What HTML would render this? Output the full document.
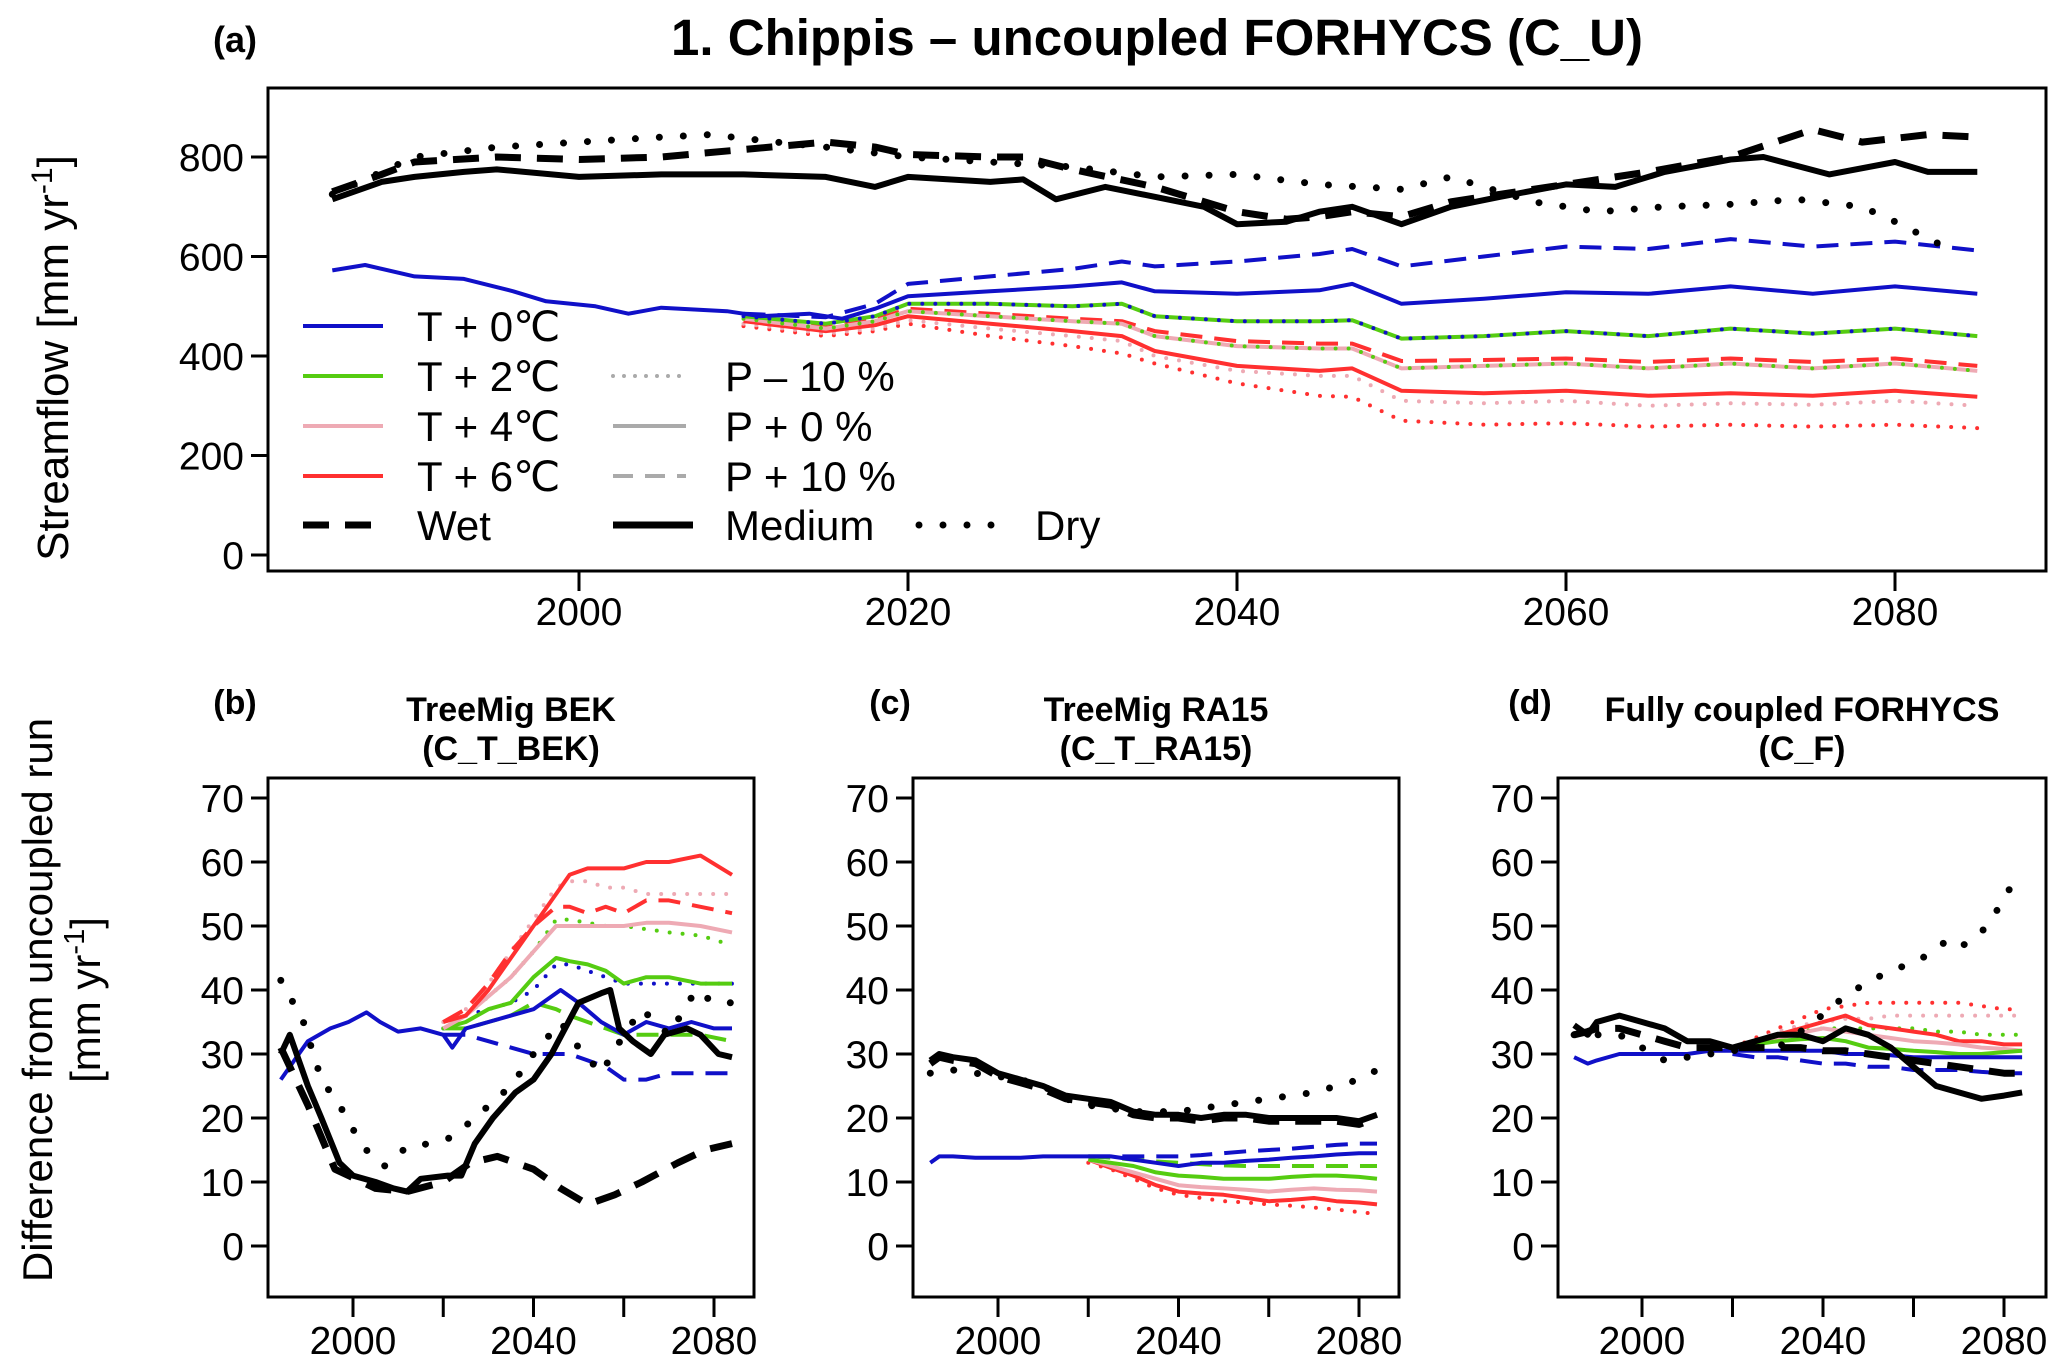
<!DOCTYPE html>
<html><head><meta charset="utf-8">
<style>
html,body{margin:0;padding:0;background:#fff;}
svg{display:block;font-family:"Liberation Sans",sans-serif;}
</style></head>
<body>
<svg id="fig" width="2067" height="1370" viewBox="0 0 2067 1370">
<text x="235" y="52" font-size="36" font-weight="bold" text-anchor="middle">(a)</text>
<text x="1157" y="55" font-size="51" font-weight="bold" text-anchor="middle">1. Chippis – uncoupled FORHYCS (C_U)</text>
<text transform="translate(68,358) rotate(-90)" font-size="44" text-anchor="middle">Streamflow [mm yr<tspan baseline-shift="super" font-size="30">-1</tspan>]</text>
<text transform="translate(52,1000) rotate(-90)" font-size="42" text-anchor="middle">Difference from uncoupled run</text>
<text transform="translate(100,1000) rotate(-90)" font-size="42" text-anchor="middle">[mm yr<tspan baseline-shift="super" font-size="29">-1</tspan>]</text>
<text x="235" y="714" font-size="34" font-weight="bold" text-anchor="middle">(b)</text>
<text x="890" y="714" font-size="34" font-weight="bold" text-anchor="middle">(c)</text>
<text x="1530" y="714" font-size="34" font-weight="bold" text-anchor="middle">(d)</text>
<text x="511" y="721" font-size="34" font-weight="bold" text-anchor="middle">TreeMig BEK</text>
<text x="511" y="760" font-size="34" font-weight="bold" text-anchor="middle">(C_T_BEK)</text>
<text x="1156" y="721" font-size="34" font-weight="bold" text-anchor="middle">TreeMig RA15</text>
<text x="1156" y="760" font-size="34" font-weight="bold" text-anchor="middle">(C_T_RA15)</text>
<text x="1802" y="721" font-size="34" font-weight="bold" text-anchor="middle">Fully coupled FORHYCS</text>
<text x="1802" y="760" font-size="34" font-weight="bold" text-anchor="middle">(C_F)</text>
</svg>
<script>
// ---------- Panel (a) data ----------
const aMedYears=[1985,1988,1990,1993,1995,2000,2005,2010,2015,2018,2020,2025,2027,2029,2032,2035,2038,2040,2043,2045,2047,2050,2053,2056,2060,2063,2066,2070,2072,2076,2080,2082,2085];
const aMedium=[715,750,760,770,775,760,765,765,760,740,760,750,755,715,740,720,700,665,670,690,700,665,700,720,745,740,770,795,800,765,790,770,770];
const aWetYears=[1985,1988,1990,1995,2000,2005,2010,2015,2018,2020,2025,2027,2030,2035,2040,2043,2045,2047,2050,2053,2057,2060,2065,2070,2075,2078,2082,2085];
const aWet=[730,765,790,800,795,800,815,830,820,805,800,800,775,740,690,675,680,690,680,710,730,745,770,800,855,830,845,840];
const aDryYears=[1985,1990,1995,2000,2005,2008,2012,2015,2020,2025,2030,2035,2040,2045,2050,2053,2058,2062,2066,2070,2074,2078,2080,2083];
const aDry=[725,800,820,830,840,845,830,820,800,790,780,760,765,745,735,760,710,690,700,705,715,700,670,620];
const aBaseYears=[1985,1987,1990,1993,1996,1998,2001,2003,2005,2009,2011,2014,2016,2018,2020,2025,2030,2033,2035,2040,2045,2047,2050,2055,2060,2065,2070,2075,2080,2085];
const aBlue=[572,583,560,555,530,510,500,485,497,490,480,485,475,495,520,530,540,548,530,525,532,545,505,515,528,525,540,525,540,525];
const aLateYears=[2010,2015,2018,2020,2025,2030,2033,2035,2040,2045,2047,2050,2055,2060,2065,2070,2075,2080,2085];
const aBlueWet=[485,478,505,545,560,575,590,580,590,605,615,580,600,620,615,635,620,630,612];
const aGreen=[480,465,480,505,505,500,505,480,470,470,472,435,440,450,440,455,445,455,440];
const aPink=[475,455,470,490,480,470,465,440,420,415,415,375,380,385,375,385,375,385,370];
const aRedWet=[477,457,473,495,485,475,470,450,430,425,425,390,392,395,388,395,388,395,380];
const aRed=[470,450,462,480,465,450,440,410,380,370,375,330,325,330,320,325,320,330,318];
const aPinkDry=[465,445,455,472,455,440,430,400,370,360,360,310,305,310,300,305,302,310,300];
const aRedDry=[460,440,450,465,440,420,405,385,345,320,318,270,262,265,258,262,258,262,255];
const aYTicks=[0,200,400,600,800];
const aXTicks=[2000,2020,2040,2060,2080];

// ---------- Panel (b) data ----------
const bMedYears=[1984,1986,1990,1993,1997,2000,2005,2009,2012,2015,2021,2024,2027,2031,2036,2040,2044,2050,2055,2057,2059,2062,2066,2069,2074,2077,2081,2084];
const bMedium=[30,33,25,20,13,11,10,9,8.5,10.5,11,11,16,20,24,26,30,38,39.5,40,34,32,30,33,34,33,30,29.5];
const bDryYears=[1984,1986,1989,1993,1997,2001,2004,2007,2012,2017,2022,2027,2035,2040,2046,2050,2055,2060,2064,2070,2076,2080,2084];
const bDry=[41.5,39,35,26,22,17,14,12.5,15.5,16,17,20,25,30,35,31,27,33,37,33,40,38,38];
const bWetYears=[1984,1990,1996,2005,2012,2020,2026,2032,2040,2046,2052,2058,2064,2072,2078,2084];
const bWet=[31,22,12,9,8.5,10,13,14,12,9,6.5,8,10,13,15,16];
const bBlueYears=[1984,1987,1990,1995,1999,2003,2006,2010,2015,2020,2022,2025,2030,2035,2040,2046,2050,2055,2060,2065,2070,2075,2080,2084];
const bBlue=[26,29,32,34,35,36.5,35,33.5,34,33,31,34,35,36,37,40,38,35,33,35,34,35,34,34];
const bLateYears=[2020,2025,2030,2035,2040,2045,2048,2052,2056,2060,2065,2070,2077,2084];
const bBlueWet=[33,33,32,31,30,30,30,29,28,26,26,27,27,27];
const bBlueDry=[34,36,37,38,40,44,44,43,42,41,41,41,41,41];
const bGreen=[34,35,37,38,42,45,44.5,44,43,41,42,42,41,41];
const bGreenWet=[34,34,35,36,38,37,36,35,34,33,33,33,33,32];
const bGreenDry=[34,36,39,42,46,51,51,50.5,50,50,49.5,49,48.5,47];
const bPink=[34,36,39,42,46,50,50,50,50,50,50.5,50.5,50,49];
const bPinkDry=[35,37,41,46,51,56,57,57,56,56,55,55,55,55];
const bRedWet=[35,37,41,46,50,53,53,52,53,52,54,54,53,52];
const bRed=[35,36,40,45,50,55,58,59,59,59,60,60,61,58];
const bYTicks=[0,10,20,30,40,50,60,70];
const bXTicks=[2000,2020,2040,2060,2080];
const bXLabels=[2000,2040,2080];

// ---------- Panel (c) data ----------
const cYears=[1985,1987,1990,1995,2000,2005,2010,2015,2020,2025,2030,2035,2040,2045,2050,2055,2060,2065,2070,2075,2080,2084];
const cMedium=[29,30,29.5,29,27,26,25,23.5,23,22.5,21,20.5,20.5,20,20.5,20.5,20,20,20,20,19.5,20.5];
const cWet=[28.5,29.5,29,28.5,26.5,25.5,24.5,23,22.5,22,20.5,20,20,19.5,20,20,19.5,19.5,19.5,19.5,19,20];
const cDry=[27,27.5,27.5,27,26.5,26,25,23,22,21.5,21,21,21,21.5,22,22.5,23,23.5,24,25,26,27.5];
const cBlue=[13,14,14,13.8,13.8,13.8,14,14,14,14,13.5,13,12.5,13,13,13.3,13.5,13.8,14,14.3,14.5,14.5];
const cLateYears=[2020,2025,2030,2035,2040,2045,2050,2055,2060,2065,2070,2075,2080,2084];
const cBlueWet=[14,14,14,14,14,14.2,14.5,14.8,15,15.2,15.5,15.8,16,16];
const cGreenWet=[14,13.8,13.5,13.2,13,12.8,12.6,12.5,12.5,12.5,12.5,12.5,12.5,12.5];
const cGreen=[13.5,13,12.5,11.5,11,10.8,10.5,10.5,10.5,10.8,11,11,10.8,10.5];
const cPink=[13.5,12.5,11.5,10.5,9.5,9.2,9,8.8,8.5,8.8,9,8.8,8.7,8.5];
const cRed=[13.5,12.2,11,9.5,8.5,8.2,8,7.5,7,7.2,7.5,7,6.8,6.5];
const cRedDry=[13,12,10.5,9,8,7.5,7,6.8,6.5,6.3,6,5.7,5.3,5];

// ---------- Panel (d) data ----------
const dYears=[1985,1988,1990,1995,2000,2005,2010,2015,2020,2025,2030,2035,2040,2045,2050,2055,2060,2065,2070,2075,2080,2084];
const dMedium=[34.5,33,35,36,35,34,32,32,31,32,33,33,32,34,33,31,28,25,24,23,23.5,24];
const dWet=[33,33.5,34,34,33,32,31,31,31,31,31,31,30.5,30.5,30,29.5,29,28.5,28,27.5,27,27];
const dBlue=[29.5,28.5,29,30,30,30,30,30.5,30.5,30.5,30.5,30.5,30.5,30,30,29.8,29.5,29.5,29.5,29.5,29.5,29.5];
const dDryYears=[1985,1995,2005,2015,2025,2030,2038,2043,2047,2052,2062,2068,2071,2075,2079,2083];
const dDry=[33,33,29,30,31,31,35,38,40,42,45,48,47,49,53,58];
const dLateYears=[2020,2025,2030,2035,2040,2045,2050,2055,2060,2065,2070,2075,2080,2084];
const dBlueWet=[30,29.5,29.5,29,28.5,28.5,28,28,27.5,27.5,27.5,27.2,27,27];
const dGreen=[31,31.5,32,32.3,32.5,32,31,30.8,30.5,30.3,30,30,30.3,30.5];
const dGreenDry=[31,32,33,33.5,34,34,34,34,34,33.5,33.5,33,33,33];
const dPink=[31,31.8,32.5,33.3,34,33.5,33,32.5,32,31.8,31.5,31,30.8,30.5];
const dPinkDry=[31,32,33.5,34.5,35,35.5,35.5,36,36,36,36,36,36,36];
const dRed=[31,32,33,34,35,36,34.5,34,33.5,33,32,32,31.5,31.5];
const dRedDry=[31,32.5,34,35.5,37,37.5,38,38,38,38,38,37.5,37,37];

const NS='http://www.w3.org/2000/svg';
const svg=document.getElementById('fig');
const C={blue:'#1010c8',green:'#55cc11',pink:'#eeaab4',red:'#ff3030',black:'#000'};
const DASH={solid:null,dashed:'22 12',dotted:'0 13',bdotted:'0 24',bdashed:'26 16'};

function mk(tag,attrs){const e=document.createElementNS(NS,tag);for(const k in attrs)e.setAttribute(k,attrs[k]);svg.appendChild(e);return e;}

function makePanel(x0,x1,y0,y1,xmin,xmax,ymin,ymax){
  return {x:v=>x0+(v-xmin)/(xmax-xmin)*(x1-x0), y:v=>y1-(v-ymin)/(ymax-ymin)*(y1-y0), x0,x1,y0,y1};
}
const PA=makePanel(579,1895,157,555,2000,2080,800,0);
PA.y=v=>555-v*(555-157)/800;
const PB=makePanel(353,714,0,0,2000,2080,0,0);PB.y=v=>1246-v*(1246-798)/70;
const PC=makePanel(998,1359,0,0,2000,2080,0,0);PC.y=PB.y;
const PD=makePanel(1642,2004,0,0,2000,2080,0,0);PD.y=PB.y;

function series(P,xs,ys,color,style,w,name){
  let d='';
  for(let i=0;i<xs.length;i++){d+=(i?'L':'M')+P.x(xs[i]).toFixed(1)+','+P.y(ys[i]).toFixed(1);}
  const p=mk('path',{d:d,fill:'none',stroke:color,'stroke-width':w,'stroke-linejoin':'round','stroke-linecap':style==='dotted'||style==='bdotted'?'round':'butt'});
  if(DASH[style])p.setAttribute('stroke-dasharray',DASH[style]);
  
  
}

function frame(x0,x1,y0,y1,name){
  const r=mk('rect',{x:x0,y:y0,width:x1-x0,height:y1-y0,fill:'none',stroke:'#000','stroke-width':3});
  
  
}
function yAxis(P,x0,ticks,fs,name){
  ticks.forEach(t=>{
    const y=P.y(t);
    const l=mk('line',{x1:x0-17,x2:x0,y1:y,y2:y,stroke:'#000','stroke-width':3});
    
    
    const tx=mk('text',{x:x0-24,y:y+14,'font-size':fs,'text-anchor':'end'});
    tx.textContent=t;
    
    
  });
}
function xAxis(P,y0,ticks,labels,ly,fs,name){
  ticks.forEach(t=>{
    const x=P.x(t);
    const l=mk('line',{x1:x,x2:x,y1:y0,y2:y0+20,stroke:'#000','stroke-width':3});
    
    
  });
  labels.forEach(t=>{
    const tx=mk('text',{x:P.x(t),y:ly,'font-size':fs,'text-anchor':'middle'});
    tx.textContent=t;
    
    
  });
}

// ---- Panel (a) ----
frame(268,2046,88,571,'panel-a-frame');
yAxis(PA,268,aYTicks,39,'a-y-tick');
xAxis(PA,571,aXTicks,aXTicks,625,39,'a-x-tick');
series(PA,aLateYears,aRedDry,C.red,'dotted',4,'a-red-dry');
series(PA,aLateYears,aPinkDry,C.pink,'dotted',4,'a-pink-dry');
series(PA,aLateYears,aRed,C.red,'solid',4,'a-red-medium');
series(PA,aLateYears,aRedWet,C.red,'dashed',4,'a-red-wet');
series(PA,aLateYears,aPink,C.pink,'solid',4,'a-pink-medium');
series(PA,aLateYears,aPink,C.green,'dotted',4,'a-green-dry');
series(PA,aLateYears,aGreen,C.green,'solid',4,'a-green-medium');
series(PA,aLateYears,aGreen,C.blue,'dotted',4,'a-blue-dry');
series(PA,aLateYears,aBlueWet,C.blue,'dashed',4,'a-blue-wet');
series(PA,aBaseYears,aBlue,C.blue,'solid',4,'a-blue-medium');
series(PA,aDryYears,aDry,C.black,'bdotted',7,'a-dry');
series(PA,aWetYears,aWet,C.black,'bdashed',7,'a-wet');
series(PA,aMedYears,aMedium,C.black,'solid',6,'a-medium');

// legend
const legRows=[326,376,426,476,525];
const legT=[['T + 0\u2103',C.blue],['T + 2\u2103',C.green],['T + 4\u2103',C.pink],['T + 6\u2103',C.red]];
legT.forEach((e,i)=>{
  const l=mk('line',{x1:303,x2:383,y1:legRows[i],y2:legRows[i],stroke:e[1],'stroke-width':4});
  
  
  const t=mk('text',{x:417,y:legRows[i]+15,'font-size':42});t.textContent=e[0];
  
  
});
const legP=[['P – 10 %','0 11'],['P + 0 %',null],['P + 10 %','20 12']];
legP.forEach((e,i)=>{
  const l=mk('line',{x1:613,x2:686,y1:legRows[i+1],y2:legRows[i+1],stroke:'#aaa','stroke-width':4,'stroke-linecap':e[1]==='0 11'?'round':'butt'});
  if(e[1])l.setAttribute('stroke-dasharray',e[1]);
  
  
  const t=mk('text',{x:725,y:legRows[i+1]+15,'font-size':42});t.textContent=e[0];
  
  
});
const legS=[[303,383,417,'Wet','26 16','butt'],[613,693,725,'Medium',null,'butt'],[919,992,1035,'Dry','0 24','round']];
legS.forEach((e,i)=>{
  const l=mk('line',{x1:e[0],x2:e[1],y1:525,y2:525,stroke:'#000','stroke-width':7,'stroke-linecap':e[5]});
  if(e[4])l.setAttribute('stroke-dasharray',e[4]);
  
  
  const t=mk('text',{x:e[2],y:540,'font-size':42});t.textContent=e[3];
  
  
});

// ---- Panel (b) ----
frame(268,754,778,1297,'panel-b-frame');
yAxis(PB,268,bYTicks,39,'b-y-tick');
xAxis(PB,1297,bXTicks,bXLabels,1354,39,'b-x-tick');
series(PB,bLateYears,bBlueWet,C.blue,'dashed',4,'b-blue-wet');
series(PB,bLateYears,bGreenWet,C.green,'dashed',4,'b-green-wet');
series(PB,bLateYears,bBlueDry,C.blue,'dotted',4,'b-blue-dry');
series(PB,bLateYears,bGreenDry,C.green,'dotted',4,'b-green-dry');
series(PB,bLateYears,bPinkDry,C.pink,'dotted',4,'b-pink-dry');
series(PB,bLateYears,bRedWet,C.red,'dashed',4,'b-red-wet');
series(PB,bLateYears,bGreen,C.green,'solid',4,'b-green-medium');
series(PB,bLateYears,bPink,C.pink,'solid',4,'b-pink-medium');
series(PB,bLateYears,bRed,C.red,'solid',4,'b-red-medium');
series(PB,bBlueYears,bBlue,C.blue,'solid',4,'b-blue-medium');
series(PB,bDryYears,bDry,C.black,'bdotted',7,'b-dry');
series(PB,bWetYears,bWet,C.black,'bdashed',7,'b-wet');
series(PB,bMedYears,bMedium,C.black,'solid',6,'b-medium');

// ---- Panel (c) ----
frame(913,1399,778,1297,'panel-c-frame');
yAxis(PC,913,bYTicks,39,'c-y-tick');
xAxis(PC,1297,bXTicks,bXLabels,1354,39,'c-x-tick');
series(PC,cLateYears,cRedDry,C.red,'dotted',4,'c-red-dry');
series(PC,cLateYears,cRed,C.red,'solid',4,'c-red-medium');
series(PC,cLateYears,cPink,C.pink,'solid',4,'c-pink-medium');
series(PC,cLateYears,cGreen,C.green,'solid',4,'c-green-medium');
series(PC,cLateYears,cGreenWet,C.green,'dashed',4,'c-green-wet');
series(PC,cLateYears,cBlueWet,C.blue,'dashed',4,'c-blue-wet');
series(PC,cYears,cBlue,C.blue,'solid',4,'c-blue-medium');
series(PC,cYears,cDry,C.black,'bdotted',7,'c-dry');
series(PC,cYears,cWet,C.black,'bdashed',7,'c-wet');
series(PC,cYears,cMedium,C.black,'solid',6,'c-medium');

// ---- Panel (d) ----
frame(1558,2046,778,1297,'panel-d-frame');
yAxis(PD,1558,bYTicks,39,'d-y-tick');
xAxis(PD,1297,bXTicks,bXLabels,1354,39,'d-x-tick');
series(PD,dLateYears,dRedDry,C.red,'dotted',4,'d-red-dry');
series(PD,dLateYears,dPinkDry,C.pink,'dotted',4,'d-pink-dry');
series(PD,dLateYears,dGreenDry,C.green,'dotted',4,'d-green-dry');
series(PD,dLateYears,dBlueWet,C.blue,'dashed',4,'d-blue-wet');
series(PD,dLateYears,dRed,C.red,'solid',4,'d-red-medium');
series(PD,dLateYears,dPink,C.pink,'solid',4,'d-pink-medium');
series(PD,dLateYears,dGreen,C.green,'solid',4,'d-green-medium');
series(PD,dYears,dBlue,C.blue,'solid',4,'d-blue-medium');
series(PD,dDryYears,dDry,C.black,'bdotted',7,'d-dry');
series(PD,dYears,dWet,C.black,'bdashed',7,'d-wet');
series(PD,dYears,dMedium,C.black,'solid',6,'d-medium');
</script>
</body></html>
